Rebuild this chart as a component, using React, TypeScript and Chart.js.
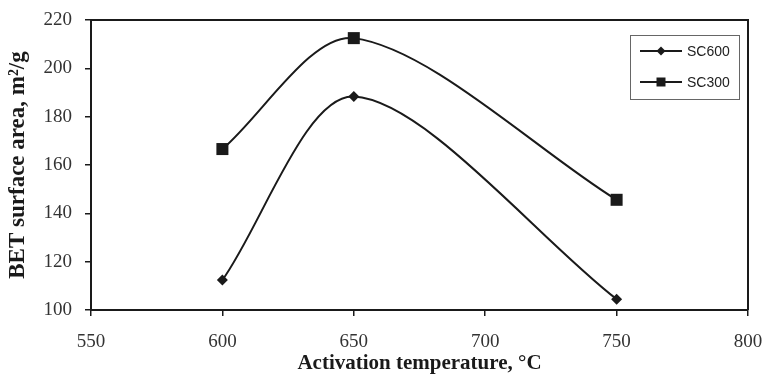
import React, { useEffect, useRef } from 'react';
import { Chart, registerables } from 'chart.js';

Chart.register(...registerables);

const temperatures = [600, 650, 750];
const sc600Values = [112.4, 188.3, 104.5];
const sc300Values = [166.6, 212.5, 145.6];
const seriesLabels = ['SC600', 'SC300'];
const xRange = [550, 800];
const yRange = [100, 220];
const xStep = 50;
const yStep = 20;
const xTitle = 'Activation temperature, °C';
const yTitle = 'BET surface area, m²/g';

const INK = '#1a1a1a';
const TICK_COLOR = '#333';

const framePlugin = {
  id: 'frame',
  afterDraw(chart: any) {
    const { ctx, chartArea } = chart;
    ctx.save();
    ctx.strokeStyle = INK;
    ctx.lineWidth = 2;
    ctx.beginPath();
    ctx.moveTo(chartArea.left, chartArea.top);
    ctx.lineTo(chartArea.right, chartArea.top);
    ctx.lineTo(chartArea.right, chartArea.bottom);
    ctx.stroke();
    ctx.restore();
  },
};

const legendPlugin = {
  id: 'boxLegend',
  afterDraw(chart: any) {
    const { ctx, chartArea } = chart;
    const boxW = 109;
    const boxRight = chartArea.right - 9;
    const boxLeft = boxRight - boxW;
    const boxTop = chartArea.top + 15;
    const boxH = 64;
    ctx.save();
    ctx.fillStyle = '#fff';
    ctx.fillRect(boxLeft, boxTop, boxW, boxH);
    ctx.strokeStyle = '#666';
    ctx.lineWidth = 1;
    ctx.strokeRect(boxLeft + 0.5, boxTop + 0.5, boxW, boxH);
    chart.data.datasets.forEach((ds: any, i: number) => {
      const y = boxTop + 16 + i * 31;
      const x0 = boxLeft + 10;
      const x1 = x0 + 42;
      ctx.strokeStyle = INK;
      ctx.lineWidth = 2;
      ctx.beginPath();
      ctx.moveTo(x0, y);
      ctx.lineTo(x1, y);
      ctx.stroke();
      ctx.fillStyle = INK;
      const cx = (x0 + x1) / 2;
      ctx.beginPath();
      if (ds.pointStyle === 'rectRot') {
        const r = 4.5;
        ctx.moveTo(cx - r, y);
        ctx.lineTo(cx, y - r);
        ctx.lineTo(cx + r, y);
        ctx.lineTo(cx, y + r);
        ctx.closePath();
      } else {
        ctx.rect(cx - 4.5, y - 4.5, 9, 9);
      }
      ctx.fill();
      ctx.fillStyle = '#222';
      ctx.font = '14px "Liberation Sans", Arial, sans-serif';
      ctx.textBaseline = 'middle';
      ctx.textAlign = 'left';
      ctx.fillText(ds.label, x1 + 5, y + 1);
    });
    ctx.restore();
  },
};

export default function App() {
  const canvasRef = useRef<HTMLCanvasElement | null>(null);

  useEffect(() => {
    document.body.style.margin = '0';
    const canvas = canvasRef.current;
    if (!canvas) return;
    const serif = '"Liberation Serif", "Times New Roman", serif';
    const tickFont = { family: serif, size: 19 };
    const chart = new Chart(canvas, {
      type: 'line',
      data: {
        datasets: [
          {
            label: seriesLabels[0],
            data: temperatures.map((t, i) => ({ x: t, y: sc600Values[i] })),
            borderColor: INK,
            backgroundColor: INK,
            borderWidth: 2,
            pointStyle: 'rectRot',
            pointRadius: 5.5,
            pointBorderWidth: 0,
            tension: 0.3,
          },
          {
            label: seriesLabels[1],
            data: temperatures.map((t, i) => ({ x: t, y: sc300Values[i] })),
            borderColor: INK,
            backgroundColor: INK,
            borderWidth: 2,
            pointStyle: 'rect',
            pointRadius: 8.5,
            pointBorderWidth: 0,
            tension: 0.3,
          },
        ],
      },
      options: {
        responsive: false,
        animation: false,
        layout: { padding: { top: 20, right: 16, left: 0, bottom: 0 } },
        plugins: {
          legend: { display: false },
          tooltip: { enabled: false },
        },
        scales: {
          x: {
            type: 'linear',
            min: xRange[0],
            max: xRange[1],
            ticks: { stepSize: xStep, font: tickFont, color: TICK_COLOR, padding: 15 },
            grid: { drawOnChartArea: false, tickLength: 6, color: INK, lineWidth: 1.5 },
            border: { color: INK, width: 2 },
            title: { display: true, text: xTitle, font: { family: serif, size: 21, weight: 'bold' }, color: INK, padding: { top: 0, bottom: 0 } },
            afterFit(scale: any) {
              scale.height = 66;
              scale.paddingLeft = 0;
              scale.paddingRight = 0;
            },
          },
          y: {
            type: 'linear',
            min: yRange[0],
            max: yRange[1],
            ticks: { stepSize: yStep, font: tickFont, color: TICK_COLOR, padding: 13 },
            grid: { drawOnChartArea: false, tickLength: 6, color: INK, lineWidth: 1.5 },
            border: { color: INK, width: 2 },
            title: { display: true, text: yTitle, font: { family: serif, size: 23, weight: 'bold' }, color: INK, padding: { top: 4, bottom: 0 } },
            afterFit(scale: any) {
              scale.width = 91;
              scale.paddingTop = 0;
              scale.paddingBottom = 0;
            },
          },
        },
      },
      plugins: [framePlugin, legendPlugin],
    });
    return () => chart.destroy();
  }, []);

  return (
    <div style={{ width: 764, height: 376, background: '#fff' }}>
      <canvas ref={canvasRef} width={764} height={376} />
    </div>
  );
}
